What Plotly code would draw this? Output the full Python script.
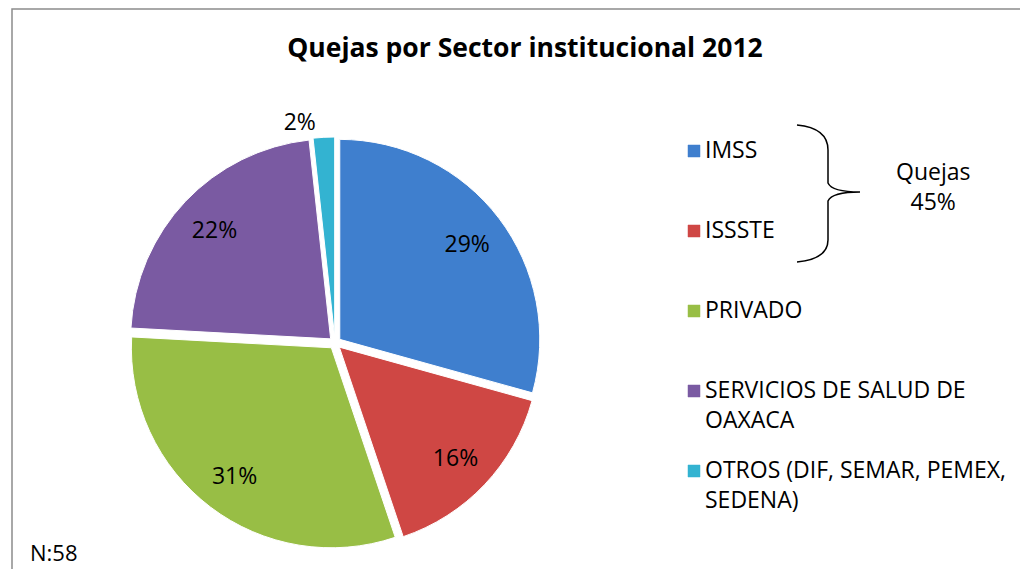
import plotly.graph_objects as go

# the page body keeps an 8px margin, so the figure is drawn 8px in from the corner
OFF = 8
W, H = 1028 - 2 * OFF, 577 - 2 * OFF

labels = ["IMSS", "ISSSTE", "PRIVADO", "SERVICIOS DE SALUD DE OAXACA",
          "OTROS (DIF, SEMAR, PEMEX, SEDENA)"]
legend_text = ["IMSS", "ISSSTE", "PRIVADO", "SERVICIOS DE SALUD DE<br>OAXACA",
               "OTROS (DIF, SEMAR, PEMEX,<br>SEDENA)"]
quejas = [17, 9, 18, 13, 1]          # N = 58
colors = ["#3F7FCE", "#CF4744", "#98BE45", "#7A5AA2", "#33B3D1"]
text_pos = ["inside", "inside", "inside", "inside", "outside"]

FONT = "'Open Sans', sans-serif"


def px(x, y):
    """screen pixel -> paper coordinates"""
    return (x - OFF) / W, 1 - (y - OFF) / H


dx0, dy1 = px(129, 137)
dx1, dy0 = px(541, 549)
domain = dict(x=[dx0, dx1], y=[dy0, dy1])
common = dict(labels=labels, values=quejas, sort=False, direction="clockwise",
              rotation=0, pull=0.03, showlegend=False, domain=domain)

fig = go.Figure()
# coloured slices
fig.add_trace(go.Pie(
    **common,
    marker=dict(colors=colors, line=dict(color="white", width=1)),
    textinfo="none",
    hoverinfo="label+value+percent",
))
# transparent ring on top: only carries the percentage labels further out
fig.add_trace(go.Pie(
    **common,
    hole=0.6,
    marker=dict(colors=["rgba(0,0,0,0)"] * len(labels), line=dict(width=0)),
    texttemplate="%{percent:.0%}",
    textposition=text_pos,
    insidetextorientation="horizontal",
    textfont=dict(family=FONT, size=23, color="black"),
    hoverinfo="skip",
))

# manual legend (spacing as in the original)
leg_y = [151, 231, 311, 391, 471]
LEG_SIZE = 23
shapes, annots = [], []
for lab, col, y in zip(legend_text, colors, leg_y):
    x0, y0 = px(688, y - 6)
    x1, y1 = px(700, y + 6)
    shapes.append(dict(type="rect", xref="paper", yref="paper",
                       x0=x0, x1=x1, y0=y1, y1=y0,
                       fillcolor=col, line=dict(color=col, width=0.5)))
    ax, ay = px(703, y - 0.87 * LEG_SIZE)
    annots.append(dict(text=lab, x=ax, y=ay, xref="paper", yref="paper",
                       xanchor="left", yanchor="top", align="left",
                       showarrow=False,
                       font=dict(family=FONT, size=LEG_SIZE, color="black")))

# brace grouping IMSS + ISSSTE
pts = [(797, 125), (828, 128), (828, 150), (828, 183), (832, 192), (860, 192),
       (832, 192), (828, 201), (828, 240), (828, 259), (797, 262)]
p = [px(*q) for q in pts]
path = (f"M {p[0][0]},{p[0][1]} Q {p[1][0]},{p[1][1]} {p[2][0]},{p[2][1]} "
        f"L {p[3][0]},{p[3][1]} Q {p[4][0]},{p[4][1]} {p[5][0]},{p[5][1]} "
        f"Q {p[6][0]},{p[6][1]} {p[7][0]},{p[7][1]} "
        f"L {p[8][0]},{p[8][1]} Q {p[9][0]},{p[9][1]} {p[10][0]},{p[10][1]}")
shapes.append(dict(type="path", xref="paper", yref="paper", path=path,
                   line=dict(color="black", width=1.5)))

qx, qy = px(933, 186)
annots.append(dict(text="Quejas<br>45%", x=qx, y=qy, xref="paper", yref="paper",
                   xanchor="center", yanchor="middle",
                   showarrow=False, align="center",
                   font=dict(family=FONT, size=23, color="black")))

nx, ny = px(28, 569)
annots.append(dict(text="N:58", x=nx, y=ny, xref="paper", yref="paper",
                   xanchor="left", yanchor="bottom", showarrow=False,
                   font=dict(family=FONT, size=22, color="black")))

# chart frame
bx0, by0 = px(12, 9)
shapes.append(dict(type="rect", xref="paper", yref="paper",
                   x0=bx0, y0=-0.05, x1=1.05, y1=by0,
                   line=dict(color="#8C8C8C", width=1.5)))

tx, ty = px(525, 48)
fig.update_layout(
    width=W, height=H,
    margin=dict(l=0, r=0, t=0, b=0),
    paper_bgcolor="white",
    title=dict(text="<b>Quejas por Sector institucional 2012</b>",
               x=tx, xanchor="center", y=ty, yanchor="middle",
               font=dict(family=FONT, size=26.5, color="black")),
    shapes=shapes,
    annotations=annots,
)

fig.write_html("out.html")
